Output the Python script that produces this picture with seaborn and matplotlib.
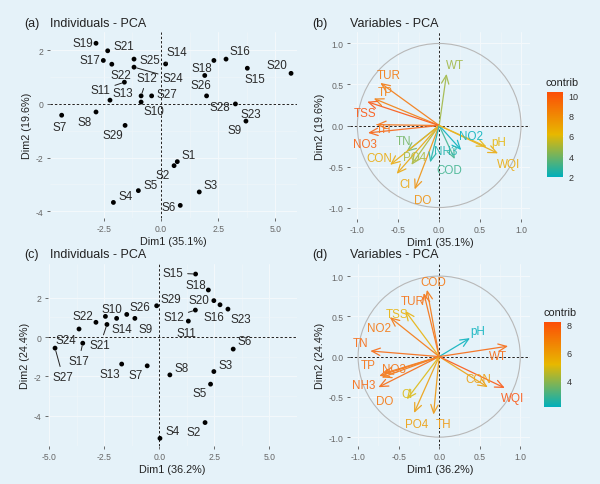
import numpy as np
import pandas as pd
import matplotlib
matplotlib.use('Agg')
import matplotlib.pyplot as plt
import seaborn as sns
from matplotlib.colors import LinearSegmentedColormap, Normalize
from matplotlib.patches import Circle
from matplotlib.cm import ScalarMappable

# ---- individuals, first PCA (a) ----
ind_a_names = ['S1', 'S2', 'S3', 'S4', 'S5', 'S6', 'S7', 'S8', 'S9', 'S10',
               'S11', 'S12', 'S13', 'S14', 'S15', 'S16', 'S17', 'S18', 'S19', 'S20',
               'S21', 'S22', 'S23', 'S24', 'S25', 'S26', 'S27', 'S28', 'S29']
ind_a_x = [0.71, 0.57, 1.67, -2.08, -0.99, 0.84, -4.34, -2.84, 3.71, -0.87,
           -1.60, -0.87, -2.23, 0.20, 3.77, 2.84, -2.52, 2.31, -2.84, 5.68,
           -2.33, -2.15, 3.25, -1.18, -1.18, 1.91, -0.41, 1.99, -1.57]
ind_a_y = [-2.15, -2.30, -3.28, -3.67, -3.23, -3.78, -0.42, -0.30, -0.64, 0.07,
           0.81, 0.30, 0.14, 1.49, 1.33, 1.67, 1.62, 1.62, 2.26, 1.14,
           1.98, 1.48, 0.00, 1.37, 1.67, 1.06, 0.30, 0.30, -0.80]

# ---- individuals, second PCA (c) ----
ind_c_names = ['S2', 'S3', 'S4', 'S5', 'S6', 'S7', 'S8', 'S9', 'S10', 'S11',
               'S12', 'S13', 'S14', 'S15', 'S16', 'S17', 'S18', 'S20', 'S21', 'S22',
               'S23', 'S24', 'S26', 'S27', 'S29']
ind_c_x = [2.08, 2.48, 0.03, 2.33, 3.36, -0.55, 0.48, -1.11, -2.45, 1.32,
           1.64, -1.71, -1.94, 1.65, 2.76, -3.48, 2.23, 2.48, -2.38, -2.88,
           3.12, -3.65, -1.48, -4.74, -0.12]
ind_c_y = [-4.34, -1.75, -5.14, -2.39, -0.61, -1.46, -1.92, 0.95, 1.05, 0.81,
           1.37, -1.37, 0.95, 3.20, 1.64, -0.31, 2.39, 1.85, 0.64, 0.75,
           1.42, 0.41, 1.15, -0.56, 1.59]

# ---- variables, first PCA (b) ----
var_b_names = ['WT', 'TUR', 'TP', 'TSS', 'TH', 'NO3', 'TN', 'CON', 'PO4', 'Cl',
               'DO', 'NH3', 'COD', 'NO2', 'pH', 'WQI']
var_b_x = [0.09, -0.72, -0.80, -0.88, -0.77, -0.87, -0.40, -0.60, -0.34, -0.52,
           -0.30, -0.11, 0.19, 0.27, 0.58, 0.72]
var_b_y = [0.63, 0.52, 0.33, 0.29, 0.01, -0.09, -0.32, -0.48, -0.48, -0.59,
           -0.78, -0.45, -0.41, -0.30, -0.26, -0.34]
var_b_contrib = [4.8, 8.8, 8.6, 10.3, 9.2, 9.8, 4.0, 6.8, 5.0, 7.0,
                 7.8, 2.4, 3.0, 1.95, 6.3, 6.8]

# ---- variables, second PCA (d) ----
var_d_names = ['COD', 'TUR', 'TSS', 'NO2', 'TN', 'TP', 'NO3', 'NH3', 'DO', 'Cl',
               'PO4', 'TH', 'pH', 'WT', 'CON', 'WQI']
var_d_x = [-0.15, -0.19, -0.42, -0.61, -0.85, -0.74, -0.69, -0.75, -0.71, -0.40,
           -0.31, -0.07, 0.38, 0.85, 0.60, 0.81]
var_d_y = [0.83, 0.79, 0.57, 0.49, 0.07, -0.24, -0.21, -0.38, -0.26, -0.53,
           -0.70, -0.72, 0.23, 0.13, -0.38, -0.39]
var_d_contrib = [7.2, 7.4, 5.4, 7.2, 7.6, 7.4, 7.3, 7.6, 7.2, 5.0,
                 6.0, 6.2, 2.1, 7.6, 6.0, 8.2]

# label nudges (pixels) as placed by the repel step in the original
lab_a = {'S1': (11, 7), 'S2': (-11, -9), 'S3': (11, 7), 'S4': (12, 6), 'S5': (12, 6),
         'S6': (-12, -2), 'S7': (-2, -12), 'S8': (-11, -10), 'S9': (-11, -9),
         'S10': (13, -9), 'S11': (-24, -8), 'S12': (6, 18), 'S13': (13, 7),
         'S14': (11, 12), 'S15': (8, -11), 'S16': (14, 8), 'S17': (-13, 0),
         'S18': (-12, -8), 'S19': (-13, 0), 'S20': (-14, 8), 'S21': (16, 5),
         'S22': (9, -11), 'S23': (15, -10), 'S24': (39, -11), 'S25': (16, -1),
         'S26': (-4, -10), 'S27': (15, 2), 'S28': (13, -11), 'S29': (-12, -10)}
seg_a = ['S11', 'S12', 'S14', 'S24']
lab_c = {'S2': (-11, -9), 'S3': (12, 7), 'S4': (13, 7), 'S5': (-11, -9), 'S6': (11, 8),
         'S7': (-12, -9), 'S8': (12, 7), 'S9': (11, -11), 'S10': (6, 7),
         'S11': (-2, -12), 'S12': (-22, -7), 'S13': (-12, -10), 'S14': (5, -11),
         'S15': (-23, 1), 'S16': (-6, -12), 'S17': (-4, -18), 'S18': (-12, 5),
         'S20': (-15, 1), 'S21': (-7, -21), 'S22': (-13, 6), 'S23': (13, -10),
         'S24': (-13, -11), 'S26': (13, 7), 'S27': (8, -29), 'S29': (14, 7)}
seg_c = ['S12', 'S15', 'S17', 'S21', 'S27']
lab_b = {'WT': (8, 9), 'TUR': (8, 8), 'TP': (11, 6), 'TSS': (-2, -11), 'TH': (7, -4),
         'NO3': (-3, -11), 'TN': (-3, 11), 'CON': (-11, 7), 'PO4': (3, 8), 'Cl': (8, -10),
         'DO': (8, -11), 'NH3': (16, 11), 'COD': (-5, -11), 'NO2': (10, 14),
         'pH': (12, 5), 'WQI': (10, -11)}
lab_d = {'COD': (6, 8), 'TUR': (-11, -8), 'TSS': (-8, -3), 'NO2': (-11, -11),
         'TN': (-10, 8), 'TP': (-11, 11), 'NO3': (11, 5), 'NH3': (-15, 2),
         'DO': (3, -23), 'Cl': (0, 5), 'PO4': (3, -11), 'TH': (10, -9),
         'pH': (8, 7), 'WT': (-10, -10), 'CON': (-10, 8), 'WQI': (8, -10)}

BG = '#e5f2f9'
sns.set_theme(style='whitegrid', rc={'axes.facecolor': BG, 'figure.facecolor': BG,
                                     'grid.color': '#f4f9fc', 'grid.linewidth': 0.7})
plt.rcParams['font.family'] = ['Liberation Sans', 'DejaVu Sans']

cmap = LinearSegmentedColormap.from_list('contrib', ['#00AFBB', '#E7B800', '#FC4E07'])
bg_rgb = np.array(matplotlib.colors.to_rgb(BG))

W, H = 600, 485
fig = plt.figure(figsize=(6, 4.85), dpi=100)


def px_axes(l, t, r, b):
    return fig.add_axes([l / W, 1 - b / H, (r - l) / W, (b - t) / H])


def soft(c, k=0.85):
    # the original arrows look slightly washed out
    return tuple(np.array(c[:3]) * k + bg_rgb * (1 - k))


def base_style(ax, xlim, ylim, xticks, yticks, fmt, xlabel, ylabel):
    ax.set_xlim(xlim)
    ax.set_ylim(ylim)
    ax.set_xticks(xticks)
    ax.set_yticks(yticks)
    ax.set_xticklabels([fmt.format(v) for v in xticks])
    ax.set_yticklabels([fmt.format(v) for v in yticks])
    ax.set_xticks([(a + b) / 2 for a, b in zip(xticks[:-1], xticks[1:])], minor=True)
    ax.set_yticks([(a + b) / 2 for a, b in zip(yticks[:-1], yticks[1:])], minor=True)
    ax.grid(True, which='minor', color='#f0f6fa', linewidth=0.4)
    ax.tick_params(which='major', length=2.5, width=0.6, color='#555555', labelsize=6.2,
                   labelcolor='#666666', pad=2, left=True, bottom=True)
    ax.tick_params(which='minor', length=0)
    for s in ax.spines.values():
        s.set_visible(False)
    ax.set_xlabel(xlabel, fontsize=7.8, color='#222222', labelpad=2)
    ax.set_ylabel(ylabel, fontsize=7.8, color='#222222', labelpad=3)
    ax.axhline(0, color='#222222', lw=0.7, ls=(0, (2.5, 2)), zorder=1)
    ax.axvline(0, color='#222222', lw=0.7, ls=(0, (2.5, 2)), zorder=1)


def draw_ind(ax, names, xs, ys, labs, segs):
    df = pd.DataFrame({'name': names, 'x': xs, 'y': ys})
    sns.scatterplot(data=df, x='x', y='y', color='black', s=12, edgecolor='none',
                    ax=ax, zorder=3, legend=False)
    for n, x, y in zip(df['name'], df['x'], df['y']):
        dx, dy = labs[n]
        arrow = None
        if n in segs:
            arrow = dict(arrowstyle='-', color='#222222', lw=0.7, shrinkA=1, shrinkB=2)
        ax.annotate(n, xy=(x, y), xytext=(dx, dy), textcoords='offset pixels',
                    ha='center', va='center', fontsize=8.4, color='#2a2a2a',
                    arrowprops=arrow, zorder=4)


def draw_var(ax, names, xs, ys, contrib, labs, norm):
    ax.add_patch(Circle((0, 0), 1, fill=False, color='#b8b8b8', lw=0.8, zorder=2))
    df = pd.DataFrame({'name': names, 'x': xs, 'y': ys, 'contrib': contrib})
    for _, r in df.iterrows():
        c = soft(cmap(norm(r['contrib'])))
        ax.annotate('', xy=(r['x'], r['y']), xytext=(0, 0),
                    arrowprops=dict(arrowstyle='->,head_length=0.5,head_width=0.22',
                                    color=c, lw=0.9, shrinkA=0, shrinkB=0), zorder=3)
        dx, dy = labs[r['name']]
        ax.annotate(r['name'], xy=(r['x'], r['y']), xytext=(dx, dy),
                    textcoords='offset pixels', ha='center', va='center',
                    fontsize=8.4, color=c, zorder=4)


def draw_cbar(l, t, r, b, norm, ticks):
    cax = px_axes(l, t, r, b)
    sm = ScalarMappable(norm=norm, cmap=cmap)
    cb = fig.colorbar(sm, cax=cax, ticks=ticks)
    cb.outline.set_visible(False)
    cax.tick_params(direction='in', length=3, width=0.8, color='white', labelsize=6.5,
                    labelcolor='#333333', pad=4, left=True, right=True)
    fig.text((l - 1) / W, 1 - (t - 10) / H, 'contrib', fontsize=7.8, color='#222222',
             ha='left', va='center')


def title(x_tag, x_title, y, tag, text):
    fig.text(x_tag / W, 1 - y / H, tag, fontsize=9, color='#222222', va='center')
    fig.text(x_title / W, 1 - y / H, text, fontsize=9, color='#222222', va='center')


ax_a = px_axes(50, 33, 297, 219)
base_style(ax_a, (-4.85, 5.94), (-4.25, 2.68), [-2.5, 0.0, 2.5, 5.0], [-4, -2, 0, 2],
           '{:g}', 'Dim1 (35.1%)', 'Dim2 (19.6%)')
ax_a.set_xticklabels(['-2.5', '0.0', '2.5', '5.0'])
draw_ind(ax_a, ind_a_names, ind_a_x, ind_a_y, lab_a, seg_a)

ax_c = px_axes(48, 265, 297, 447)
base_style(ax_c, (-5.06, 6.26), (-5.53, 3.71), [-5.0, -2.5, 0.0, 2.5, 5.0], [-4, -2, 0, 2],
           '{:g}', 'Dim1 (36.2%)', 'Dim2 (24.4%)')
ax_c.set_xticklabels(['-5.0', '-2.5', '0.0', '2.5', '5.0'])
draw_ind(ax_c, ind_c_names, ind_c_x, ind_c_y, lab_c, seg_c)

norm_b = Normalize(min(var_b_contrib), max(var_b_contrib))
ax_b = px_axes(350, 33, 530, 220)
base_style(ax_b, (-1.09, 1.11), (-1.14, 1.14), [-1.0, -0.5, 0.0, 0.5, 1.0],
           [-1.0, -0.5, 0.0, 0.5, 1.0], '{:.1f}', 'Dim1 (35.1%)', 'Dim2 (19.6%)')
draw_var(ax_b, var_b_names, var_b_x, var_b_y, var_b_contrib, lab_b, norm_b)
draw_cbar(547, 93, 563, 178, norm_b, [2, 4, 6, 8, 10])

norm_d = Normalize(min(var_d_contrib), max(var_d_contrib))
ax_d = px_axes(350, 265, 530, 447)
base_style(ax_d, (-1.10, 1.12), (-1.11, 1.15), [-1.0, -0.5, 0.0, 0.5, 1.0],
           [-1.0, -0.5, 0.0, 0.5, 1.0], '{:.1f}', 'Dim1 (36.2%)', 'Dim2 (24.4%)')
draw_var(ax_d, var_d_names, var_d_x, var_d_y, var_d_contrib, lab_d, norm_d)
draw_cbar(544, 323, 561, 408, norm_d, [4, 6, 8])

title(24, 50, 24, '(a)', 'Individuals - PCA')
title(312, 350, 24, '(b)', 'Variables - PCA')
title(24, 50, 255, '(c)', 'Individuals - PCA')
title(312, 350, 255, '(d)', 'Variables - PCA')

fig.savefig('out.png', dpi=100, facecolor=BG)
